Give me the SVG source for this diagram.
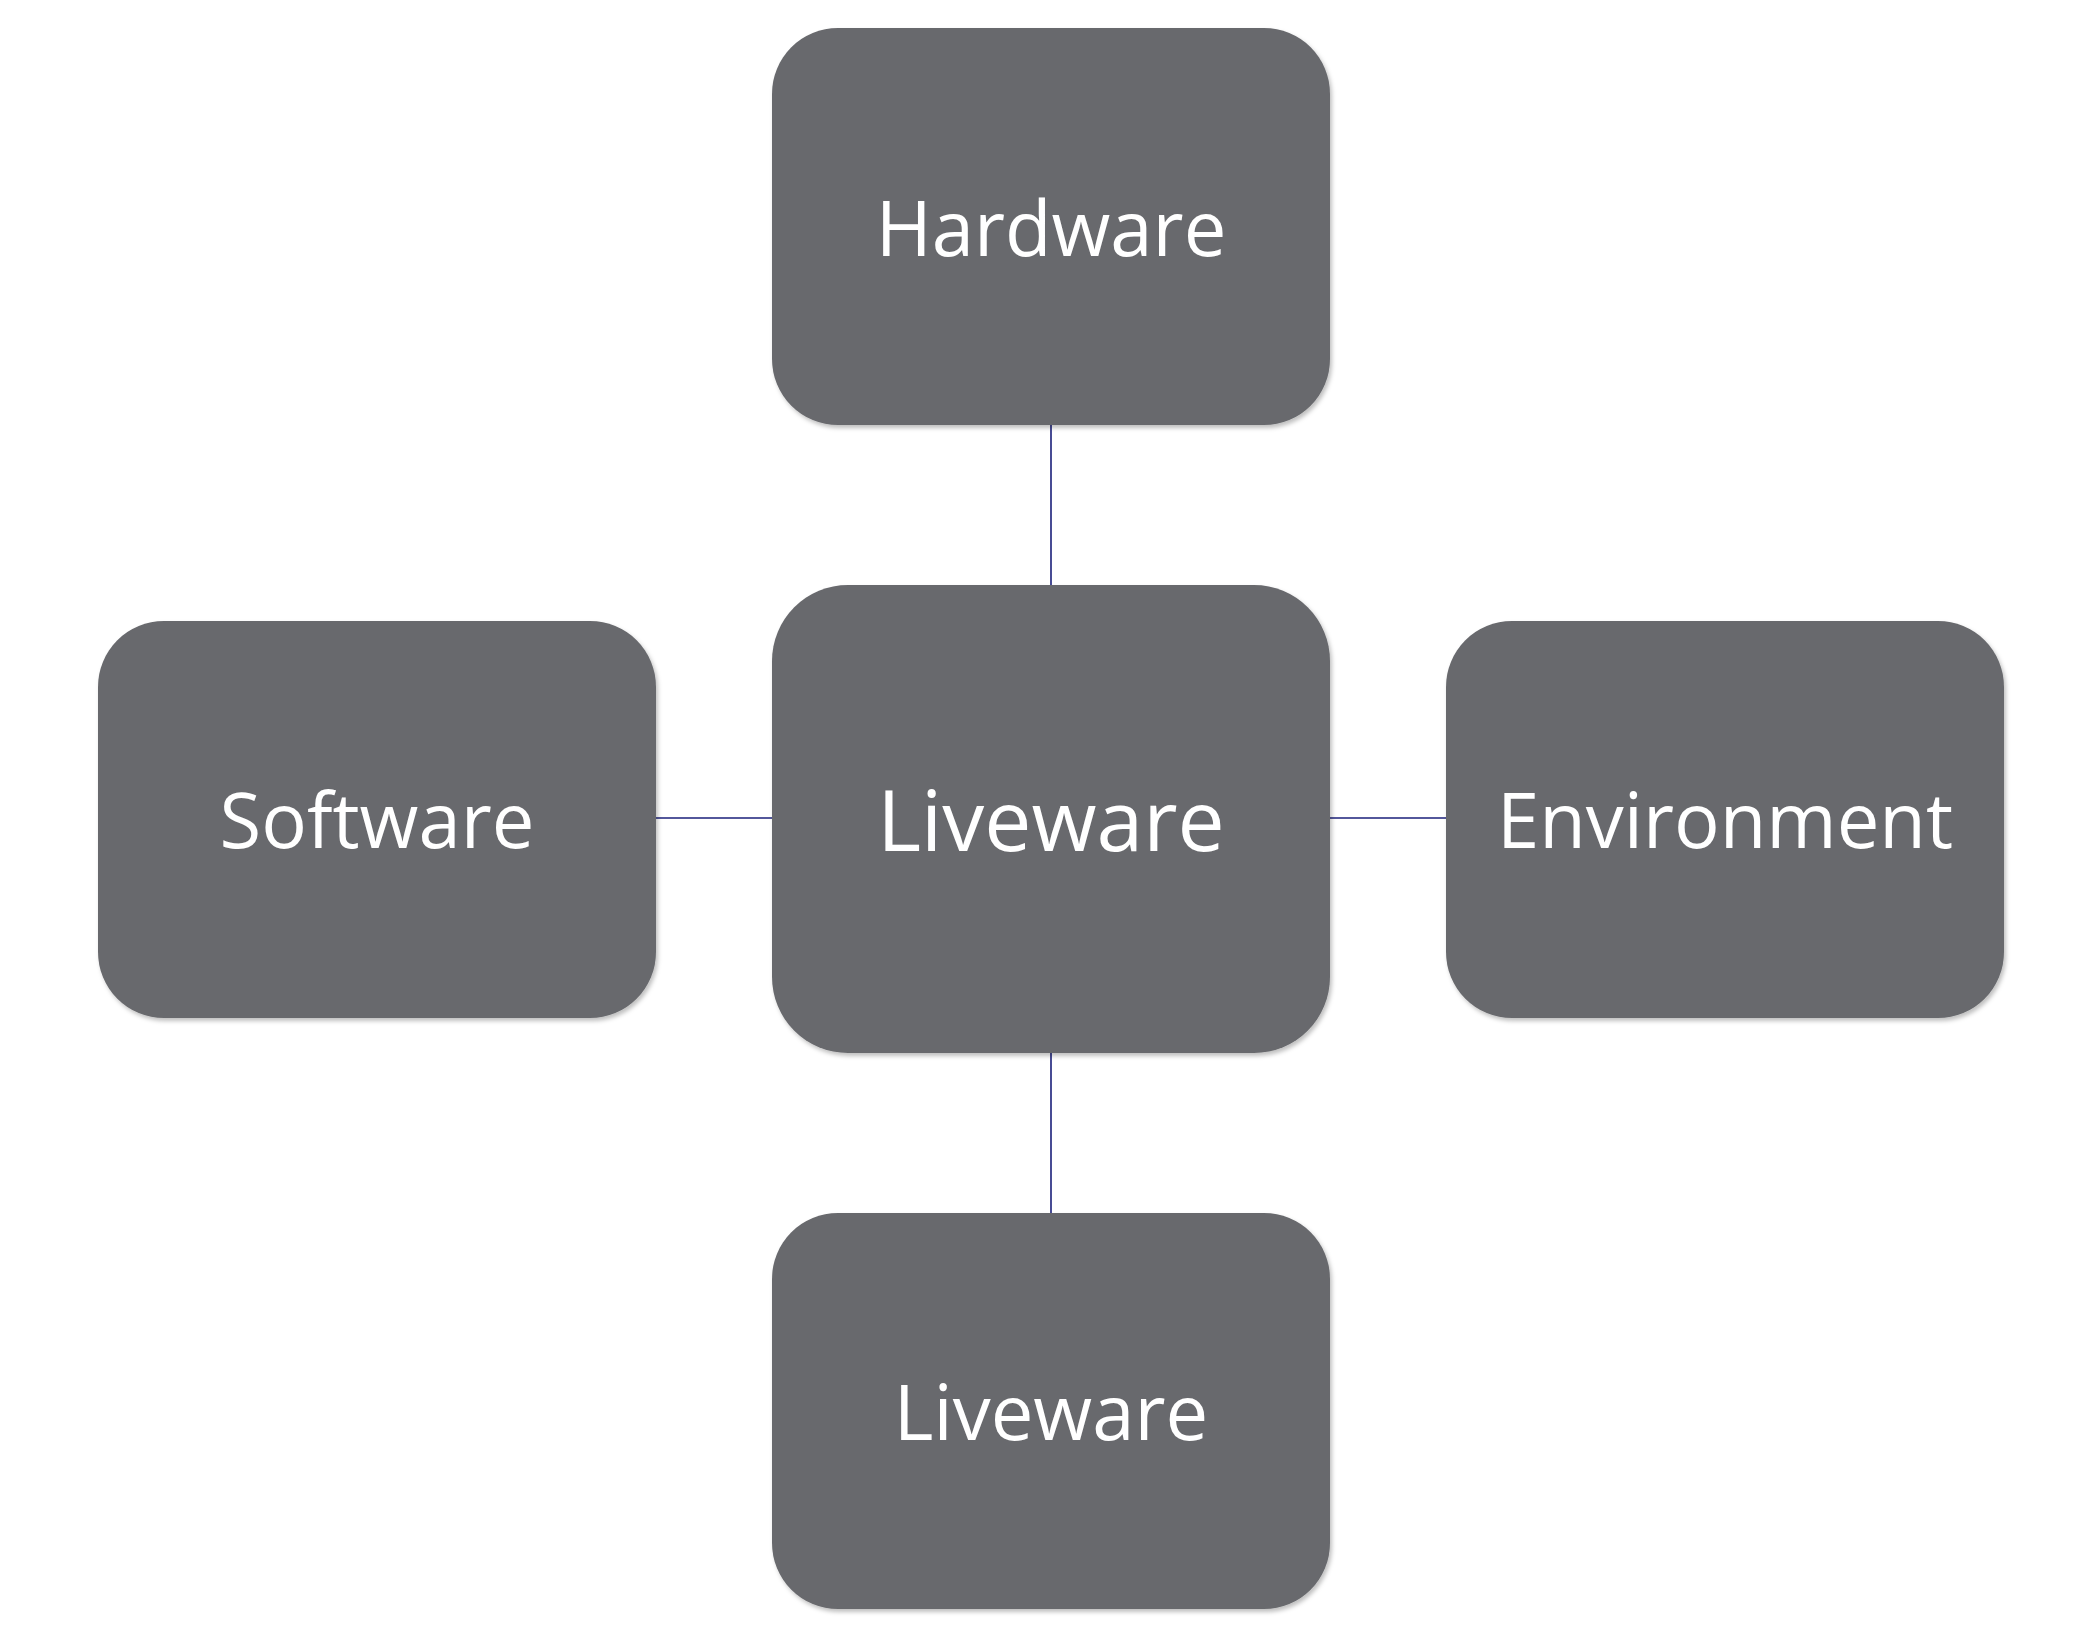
<svg xmlns="http://www.w3.org/2000/svg" width="2096" height="1632" viewBox="0 0 2096 1632">
<defs>
<style>
.n{fill:#68696d;filter:url(#sh)}
.t{fill:#fff;font-family:"Open Sans",sans-serif;font-size:76px;text-anchor:middle;dominant-baseline:central}
.c{stroke:#1a1f7a;stroke-width:1.6;fill:none}
</style>
<filter id="sh" x="-5%" y="-5%" width="110%" height="112%"><feDropShadow dx="2" dy="3" stdDeviation="2" flood-color="#000" flood-opacity="0.25"/></filter>
</defs>
<rect width="2096" height="1632" fill="#fff"/>
<g id="connectors">
<line class="c" x1="1051" y1="425" x2="1051" y2="585"/>
<line class="c" x1="1051" y1="1053" x2="1051" y2="1213"/>
<line class="c" x1="656" y1="818" x2="773" y2="818"/>
<line class="c" x1="1330" y1="818" x2="1446" y2="818"/>
</g>
<g id="hardware"><rect class="n" x="772" y="28" width="558" height="397" rx="66"/><text class="t" x="1051" y="226">Hardware</text></g>
<g id="liveware-center"><rect class="n" x="772" y="585" width="558" height="468" rx="76"/><text class="t" x="1051" y="818" style="font-size:84px">Liveware</text></g>
<g id="software"><rect class="n" x="98" y="621" width="558" height="397" rx="66"/><text class="t" x="377" y="818">Software</text></g>
<g id="environment"><rect class="n" x="1446" y="621" width="558" height="397" rx="66"/><text class="t" x="1725" y="818">Environment</text></g>
<g id="liveware-bottom"><rect class="n" x="772" y="1213" width="558" height="396" rx="66"/><text class="t" x="1051" y="1410">Liveware</text></g>
</svg>
